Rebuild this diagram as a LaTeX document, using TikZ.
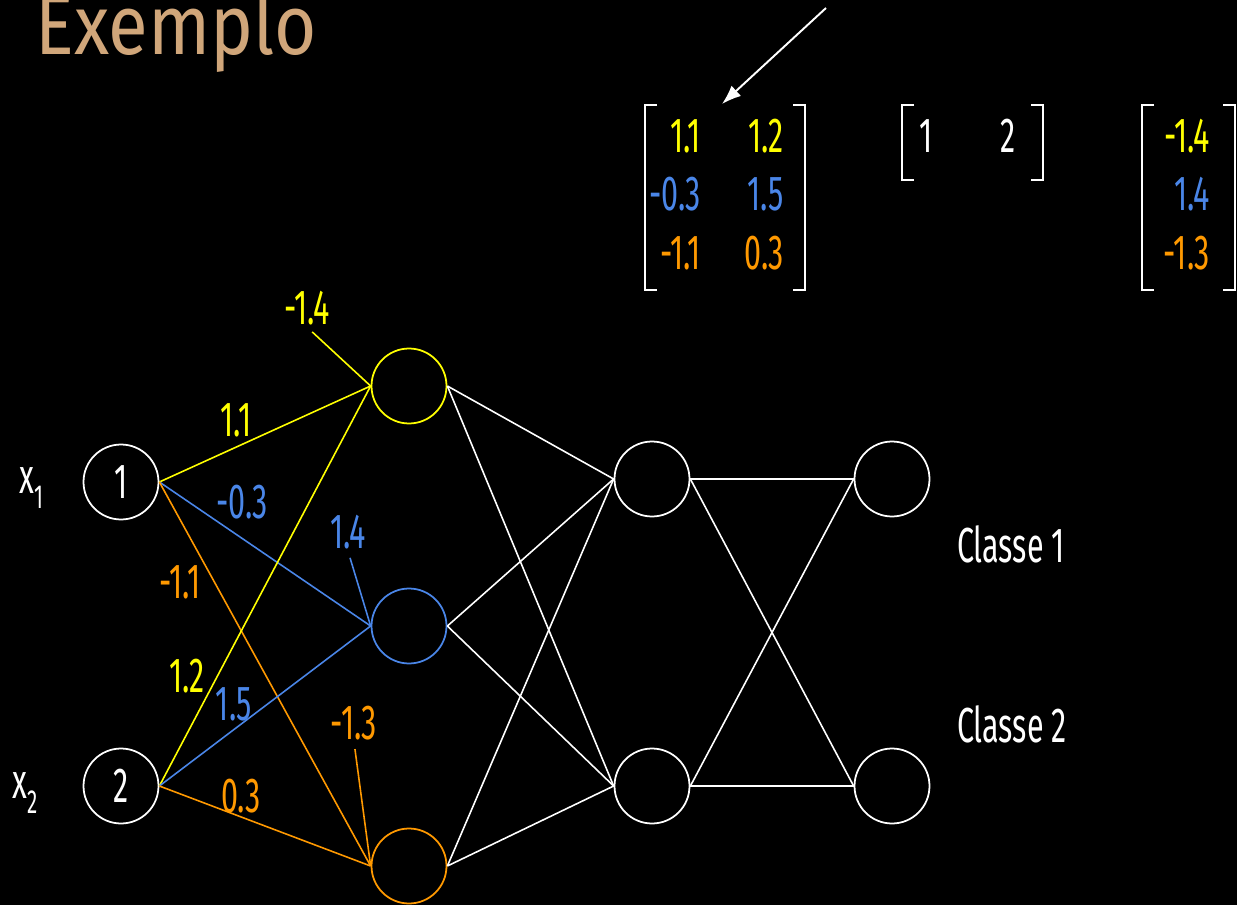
\documentclass[tikz,border=0pt]{standalone}
\usepackage{fontspec}
\setmainfont{Fira Sans}[FakeStretch=0.62]
\newfontfamily\titlefamily{Fira Sans}[FakeStretch=0.86]
\usetikzlibrary{arrows.meta}
\definecolor{nnyellow}{RGB}{255,255,0}
\definecolor{nnblue}{RGB}{74,134,232}
\definecolor{nnorange}{RGB}{255,153,0}
\definecolor{nntan}{RGB}{208,166,122}
\newcommand{\lblfont}{\fontsize{28}{32}\selectfont}
\newcommand{\subfont}{\fontsize{19}{22}\selectfont}

\begin{document}
\begin{tikzpicture}[x=0.02cm,y=-0.02cm,
  neuron/.style={circle,draw=#1,line width=1pt,minimum size=1.5cm,inner sep=0pt,
                 text=white,font=\lblfont},
  neuron/.default=white,
  wt/.style={text=#1,font=\lblfont,inner sep=1pt},
  wt/.default=white,
  link/.style={draw=#1,line width=0.9pt},
  link/.default=white,
  brk/.style={draw=white,line width=1.1pt}]
  \useasboundingbox (0,0) rectangle (1237,905);
  \fill[black] (0,0) rectangle (1237,905);

  \node[anchor=base west,inner sep=0pt,text=nntan,
        font=\titlefamily\fontsize{48}{56}\selectfont] (title) at (35,55) {Exemplo};

  % input layer
  \node[neuron] (i1) at (121,482) {1};
  \node[neuron] (i2) at (121,786) {2};
  \node[wt,anchor=base west,inner sep=0pt] (x1) at (19,493) {x\raisebox{-9pt}{\subfont 1}};
  \node[wt,anchor=base west,inner sep=0pt] (x2) at (12,798) {x\raisebox{-9pt}{\subfont 2}};

  % hidden and output layers
  \node[neuron=nnyellow] (h1) at (409,386) {};
  \node[neuron=nnblue] (h2) at (409,626) {};
  \node[neuron=nnorange] (h3) at (409,866) {};
  \node[neuron] (m1) at (652,479) {};
  \node[neuron] (m2) at (652,786) {};
  \node[neuron] (o1) at (892,479) {};
  \node[neuron] (o2) at (892,786) {};
  \node[wt,anchor=west] (c1) at (955,544) {Classe 1};
  \node[wt,anchor=west] (c2) at (955,724) {Classe 2};

  % weights
  \draw[link=nnyellow] (i1.east) -- (h1.west);
  \draw[link=nnblue] (i1.east) -- (h2.west);
  \draw[link=nnorange] (i1.east) -- (h3.west);
  \draw[link=nnyellow] (i2.east) -- (h1.west);
  \draw[link=nnblue] (i2.east) -- (h2.west);
  \draw[link=nnorange] (i2.east) -- (h3.west);
  \node[wt=nnyellow] (w11) at (236,420) {1.1};
  \node[wt=nnblue] (w21) at (242,502) {-0.3};
  \node[wt=nnorange] (w31) at (180,582) {-1.1};
  \node[wt=nnyellow] (w12) at (187,676) {1.2};
  \node[wt=nnblue] (w22) at (234,704) {1.5};
  \node[wt=nnorange] (w32) at (241,796) {0.3};

  % biases
  \node[wt=nnyellow] (b1) at (307,308) {-1.4};
  \node[wt=nnblue] (b2) at (348,532) {1.4};
  \node[wt=nnorange] (b3) at (354,723) {-1.3};
  \draw[link=nnyellow,shorten <=4pt] (b1.south) -- (h1.west);
  \draw[link=nnblue,shorten <=4pt] (b2.south) -- (h2.west);
  \draw[link=nnorange,shorten <=4pt] (b3.south) -- (h3.west);

  \foreach \h in {h1,h2,h3}
    \foreach \m in {m1,m2}
      \draw[link] (\h.east) -- (\m.west);
  \foreach \m in {m1,m2}
    \foreach \o in {o1,o2}
      \draw[link] (\m.east) -- (\o.west);

  % matrices
  \draw[brk] (657,105) -| (645,290) -- (657,290);
  \draw[brk] (793,105) -| (805,290) -- (793,290);
  \node[wt=nnyellow,anchor=base east] (a11) at (703,153) {1.1};
  \node[wt=nnyellow,anchor=base east] (a12) at (786,153) {1.2};
  \node[wt=nnblue,anchor=base east] (a21) at (703,211) {-0.3};
  \node[wt=nnblue,anchor=base east] (a22) at (786,211) {1.5};
  \node[wt=nnorange,anchor=base east] (a31) at (703,270) {-1.1};
  \node[wt=nnorange,anchor=base east] (a32) at (786,270) {0.3};

  \draw[brk] (914,105) -| (902,180) -- (914,180);
  \draw[brk] (1031,105) -| (1043,180) -- (1031,180);
  \node[wt,anchor=base east] (v1) at (935,153) {1};
  \node[wt,anchor=base east] (v2) at (1018,153) {2};

  \draw[brk] (1154,105) -| (1142,290) -- (1154,290);
  \draw[brk] (1223,105) -| (1235,290) -- (1223,290);
  \node[wt=nnyellow,anchor=base east] (c11) at (1212,153) {-1.4};
  \node[wt=nnblue,anchor=base east] (c21) at (1212,211) {1.4};
  \node[wt=nnorange,anchor=base east] (c31) at (1212,270) {-1.3};

  \coordinate (arrtail) at (826,8);
  \coordinate (arrhead) at (722,104);
  \draw[white,line width=1.1pt,-{Latex[length=11pt,width=8pt]}] (arrtail) -- (arrhead);
\end{tikzpicture}
\end{document}
